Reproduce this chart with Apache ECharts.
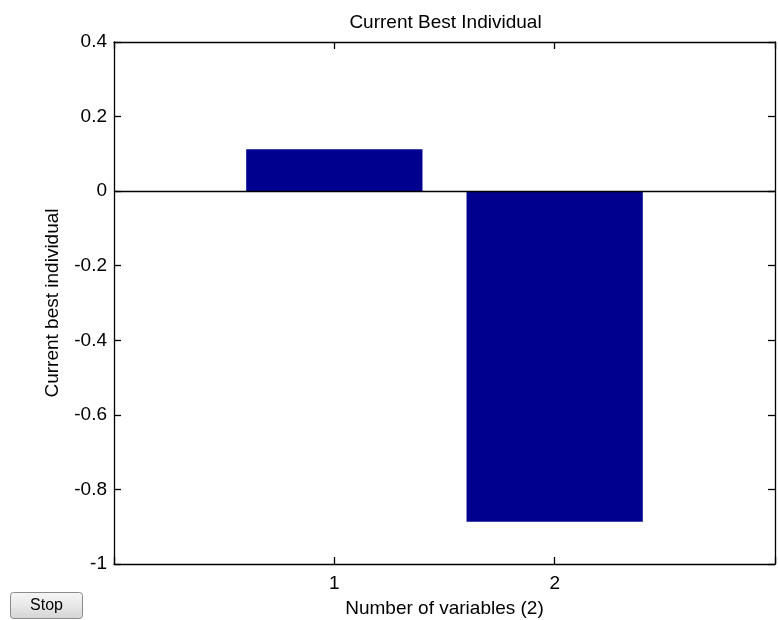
<!DOCTYPE html>
<html>
<head>
<meta charset="utf-8">
<script src="https://cdn.jsdelivr.net/npm/echarts@6/dist/echarts.min.js"></script>
<style>
html,body{margin:0;padding:0;background:#fff;overflow:hidden;}
#chart{width:778px;height:620px;}
</style>
</head>
<body>
<div id="chart"></div>
<script>
// ---- data ----
const categories = [1, 2];
const values = [0.1126, -0.887];
const yTicks = [-1, -0.8, -0.6, -0.4, -0.2, 0, 0.2, 0.4];
const xTicks = [1, 2];
const titleText = 'Current Best Individual';
const xLabel = 'Number of variables (2)';
const yLabel = 'Current best individual';

const FONT = '"Liberation Sans", Arial, sans-serif';
const W = 778, H = 620;
const grid = {left: 114, right: 3, top: 42, bottom: 56, containLabel: false, outerBoundsMode: 'none'};
const xMin = 0, xMax = 3;
const gridW = W - grid.left - grid.right;
const barW = gridW / (xMax - xMin) * 0.8;

const chart = echarts.init(document.getElementById('chart'), null, {renderer: 'canvas', width: W, height: H});

const axisLineStyle = {show: true, onZero: false, lineStyle: {color: '#000', width: 1.3}};
const tickStyle = {show: true, inside: true, length: 7, lineStyle: {color: '#000', width: 1.3}};

function fmtY(v) {
  const r = Math.round(v * 10) / 10;
  return yTicks.some(t => Math.abs(t - r) < 1e-9) ? String(r) : '';
}
function fmtX(v) {
  return xTicks.indexOf(Math.round(v)) >= 0 ? String(Math.round(v)) : '';
}

const option = {
  backgroundColor: '#fff',
  animation: false,
  title: {
    text: titleText,
    left: grid.left + gridW / 2 - 4,
    textAlign: 'center',
    top: 8,
    textStyle: {fontFamily: FONT, fontSize: 19, fontWeight: 'normal', color: '#000'}
  },
  grid: grid,
  xAxis: [{
    type: 'value', min: xMin, max: xMax, interval: 1, position: 'bottom',
    axisLine: axisLineStyle, axisTick: tickStyle, splitLine: {show: false},
    axisLabel: {formatter: fmtX, fontFamily: FONT, fontSize: 19, color: '#000', margin: 10},
    name: xLabel, nameLocation: 'middle', nameGap: 35,
    nameTextStyle: {fontFamily: FONT, fontSize: 19, color: '#000'}
  }, {
    type: 'value', min: xMin, max: xMax, interval: 1, position: 'top',
    axisLine: axisLineStyle, axisTick: tickStyle, splitLine: {show: false},
    axisLabel: {show: false}
  }],
  yAxis: [{
    type: 'value', min: yTicks[0], max: yTicks[yTicks.length - 1], interval: 0.2, position: 'left',
    axisLine: axisLineStyle, axisTick: tickStyle, splitLine: {show: false},
    axisLabel: {formatter: fmtY, fontFamily: FONT, fontSize: 19, color: '#000', margin: 7},
    name: yLabel, nameLocation: 'middle', nameGap: 52, nameRotate: 90,
    nameTextStyle: {fontFamily: FONT, fontSize: 19, color: '#000'}
  }, {
    type: 'value', min: yTicks[0], max: yTicks[yTicks.length - 1], interval: 0.2, position: 'right',
    axisLine: axisLineStyle, axisTick: tickStyle, splitLine: {show: false},
    axisLabel: {show: false}
  }],
  series: [{
    type: 'bar',
    xAxisIndex: 0, yAxisIndex: 0,
    data: categories.map((c, i) => [c, values[i]]),
    barWidth: barW,
    itemStyle: {color: '#00008F'},
    markLine: {
      silent: true, symbol: 'none', label: {show: false},
      lineStyle: {color: '#000', width: 1.3, type: 'solid'},
      data: [{yAxis: 0}]
    }
  }],
  graphic: [{
    type: 'group', left: 10, top: 592,
    children: [{
      type: 'rect',
      shape: {x: 0, y: 0, width: 72, height: 26, r: 3},
      style: {
        fill: new echarts.graphic.LinearGradient(0, 0, 0, 1, [
          {offset: 0, color: '#f6f6f6'}, {offset: 0.5, color: '#e8e8e8'}, {offset: 1, color: '#d4d4d4'}
        ]),
        stroke: '#8a8a8a', lineWidth: 1
      }
    }, {
      type: 'text',
      x: 36, y: 13,
      style: {text: 'Stop', fontFamily: FONT, fontSize: 16, fill: '#000', align: 'center', verticalAlign: 'middle'}
    }]
  }]
};
chart.setOption(option);
</script>
</body>
</html>
